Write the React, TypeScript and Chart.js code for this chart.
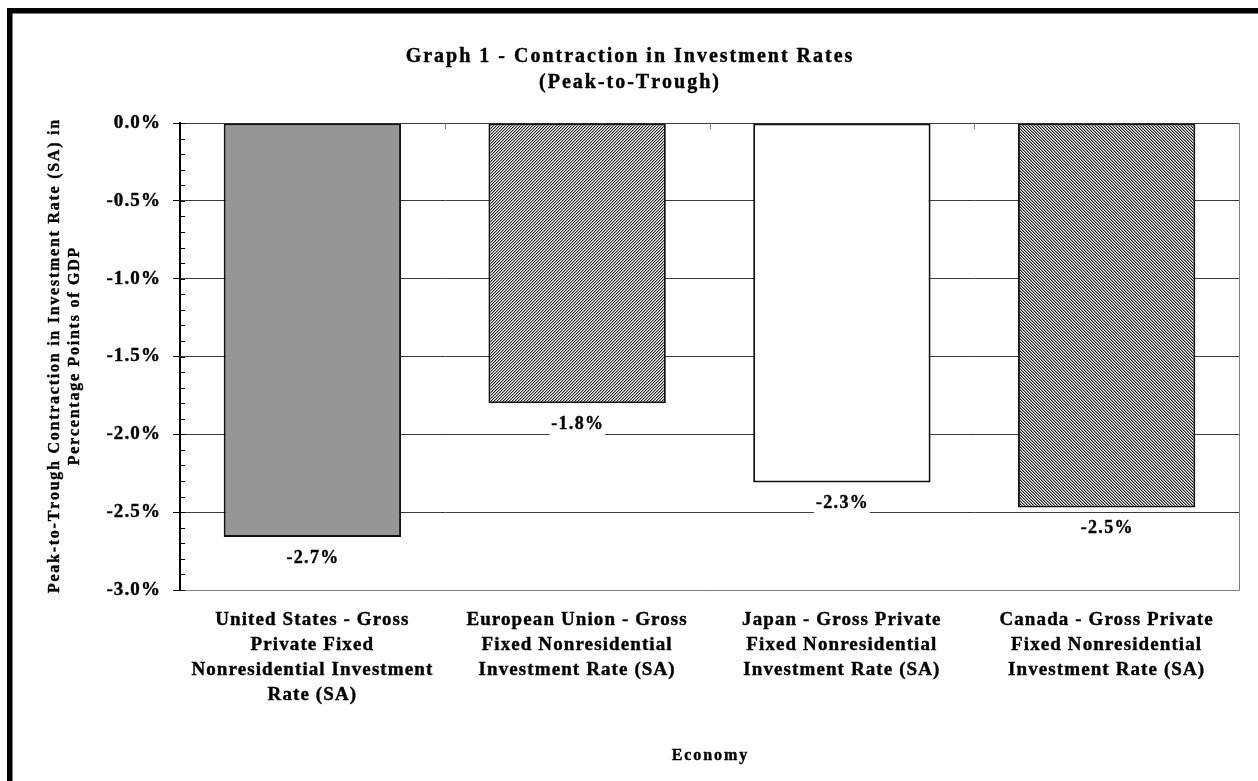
import React, { useEffect, useRef } from 'react';
import { Chart, registerables } from 'chart.js';

Chart.register(...registerables);

// ---- data ----
const categories: string[][] = [
  ['United States - Gross', 'Private Fixed', 'Nonresidential Investment', 'Rate (SA)'],
  ['European Union - Gross', 'Fixed Nonresidential', 'Investment Rate (SA)'],
  ['Japan - Gross Private', 'Fixed Nonresidential', 'Investment Rate (SA)'],
  ['Canada - Gross Private', 'Fixed Nonresidential', 'Investment Rate (SA)'],
];
const contraction: number[] = [-2.66, -1.8, -2.31, -2.47];
const yMin = -3.0;
const yMax = 0.0;
const yStep = 0.5;
const yMinorStep = 0.1;
const titleLines: string[] = ['Graph 1 - Contraction in Investment Rates', '(Peak-to-Trough)'];
const yTitleLines: string[] = [
  'Peak-to-Trough Contraction in Investment Rate (SA) in',
  'Percentage Points of GDP',
];
const xTitle = 'Economy';

const FONT = '"Liberation Serif", "Times New Roman", serif';
const STROKE = 0.4;

function makePattern(
  ctx: CanvasRenderingContext2D,
  size: number,
  fn: (x: number, y: number) => number
): CanvasPattern | string {
  const c = document.createElement('canvas');
  c.width = size;
  c.height = size;
  const g = c.getContext('2d');
  if (!g) return '#a0a0a0';
  const img = g.createImageData(size, size);
  for (let y = 0; y < size; y++) {
    for (let x = 0; x < size; x++) {
      const v = fn(x, y);
      const i = (y * size + x) * 4;
      img.data[i] = v;
      img.data[i + 1] = v;
      img.data[i + 2] = v;
      img.data[i + 3] = 255;
    }
  }
  g.putImageData(img, 0, 0);
  return ctx.createPattern(c, 'repeat') || '#a0a0a0';
}

function spacedWidth(ctx: CanvasRenderingContext2D, text: string, spacing: number) {
  let w = 0;
  for (const ch of text) w += ctx.measureText(ch).width;
  return w + spacing * Math.max(0, text.length - 1);
}
function drawSpaced(
  ctx: CanvasRenderingContext2D,
  text: string,
  cx: number,
  cy: number,
  spacing: number
) {
  ctx.save();
  (ctx as any).letterSpacing = '0px';
  ctx.textAlign = 'left';
  ctx.textBaseline = 'middle';
  ctx.strokeStyle = ctx.fillStyle as string;
  ctx.lineWidth = STROKE;
  ctx.lineJoin = 'round';
  const total = spacedWidth(ctx, text, spacing);
  let x = cx - total / 2;
  for (const ch of text) {
    ctx.strokeText(ch, x, cy);
    ctx.fillText(ch, x, cy);
    x += ctx.measureText(ch).width + spacing;
  }
  ctx.restore();
}

const decor = {
  id: 'decor',
  beforeDraw(chart: any) {
    const ctx: CanvasRenderingContext2D = chart.ctx;
    ctx.save();
    ctx.fillStyle = '#ffffff';
    ctx.fillRect(0, 0, chart.width, chart.height);
    ctx.restore();
    (ctx as any).letterSpacing = '1.1px';
  },
  beforeDatasetsDraw(chart: any) {
    const ctx: CanvasRenderingContext2D = chart.ctx;
    const { left, right, top, bottom } = chart.chartArea;
    const xs = chart.scales.x;
    const ys = chart.scales.y;
    ctx.save();
    ctx.strokeStyle = '#808080';
    ctx.lineWidth = 1;
    ctx.beginPath();
    ctx.moveTo(left, Math.round(bottom) + 0.5);
    ctx.lineTo(Math.round(right) + 0.5, Math.round(bottom) + 0.5);
    ctx.lineTo(Math.round(right) + 0.5, top);
    ctx.stroke();
    ctx.beginPath();
    for (let i = 0; i < categories.length - 1; i++) {
      const bx = Math.round((xs.getPixelForValue(i) + xs.getPixelForValue(i + 1)) / 2) + 0.5;
      ctx.moveTo(bx, top);
      ctx.lineTo(bx, top + 6);
    }
    ctx.stroke();
    ctx.strokeStyle = '#000000';
    ctx.beginPath();
    const n = Math.round((yMax - yMin) / yMinorStep);
    for (let k = 0; k <= n; k++) {
      const v = yMax - k * yMinorStep;
      const py = Math.round(ys.getPixelForValue(v)) + 0.5;
      ctx.moveTo(left, py);
      ctx.lineTo(left + 5, py);
    }
    ctx.stroke();
    ctx.restore();
  },
  afterDatasetsDraw(chart: any) {
    const ctx: CanvasRenderingContext2D = chart.ctx;
    const meta = chart.getDatasetMeta(0);
    ctx.save();
    (ctx as any).letterSpacing = '0px';
    ctx.font = `bold 18px ${FONT}`;
    meta.data.forEach((el: any, i: number) => {
      const v = contraction[i];
      const label = `${v.toFixed(1)}%`;
      const cx = el.x;
      const cy = el.y + 21;
      const w = spacedWidth(ctx, label, 1.3) + 4;
      ctx.fillStyle = '#ffffff';
      ctx.fillRect(cx - w / 2, cy - 11, w, 22);
      ctx.fillStyle = '#000000';
      drawSpaced(ctx, label, cx, cy, 1.3);
    });
    ctx.restore();
  },
  afterDraw(chart: any) {
    const ctx: CanvasRenderingContext2D = chart.ctx;
    const { left, right, top, bottom } = chart.chartArea;
    ctx.save();
    (ctx as any).letterSpacing = '0px';
    ctx.fillStyle = '#000000';
    ctx.font = `bold 20px ${FONT}`;
    drawSpaced(ctx, titleLines[0], chart.width / 2, 57, 2.0);
    drawSpaced(ctx, titleLines[1], chart.width / 2, 82.5, 2.0);
    ctx.font = `bold 16px ${FONT}`;
    const cyMid = (top + bottom) / 2;
    ctx.save();
    ctx.translate(55, cyMid);
    ctx.rotate(-Math.PI / 2);
    drawSpaced(ctx, yTitleLines[0], 0, 0, 1.75);
    ctx.restore();
    ctx.save();
    ctx.translate(75, cyMid);
    ctx.rotate(-Math.PI / 2);
    drawSpaced(ctx, yTitleLines[1], 0, 0, 1.75);
    ctx.restore();
    ctx.font = `bold 16px ${FONT}`;
    drawSpaced(ctx, xTitle, (left + right) / 2, 756, 1.9);
    ctx.fillStyle = '#000000';
    ctx.fillRect(7, 8, chart.width - 7, 5.5);
    ctx.fillRect(7, 8, 5.5, chart.height - 8);
    ctx.restore();
  },
};

export default function App() {
  const canvasRef = useRef<HTMLCanvasElement | null>(null);

  useEffect(() => {
    const canvas = canvasRef.current;
    if (!canvas) return;
    const ctx = canvas.getContext('2d');
    if (!ctx) return;

    const euPattern = makePattern(ctx, 6, (x, y) => {
      const k = (x + y) % 3;
      return k === 0 ? 35 : k === 1 ? 165 : 255;
    });
    const caPattern = makePattern(ctx, 6, (x, y) => {
      const k = (x - y + 60) % 3;
      return k === 0 ? 30 : k === 1 ? 150 : 255;
    });

    const chart = new Chart(ctx, {
      type: 'bar',
      data: {
        labels: categories,
        datasets: [
          {
            data: contraction,
            backgroundColor: ['#969696', euPattern, '#ffffff', caPattern] as any,
            borderColor: '#111111',
            borderWidth: 2,
            borderSkipped: false,
            categoryPercentage: 1.0,
            barPercentage: 0.67,
          },
        ],
      },
      plugins: [decor],
      options: {
        responsive: false,
        maintainAspectRatio: false,
        animation: false,
        devicePixelRatio: 1,
        layout: { padding: { left: 0, right: 19, top: 123, bottom: 41 } },
        plugins: {
          legend: { display: false },
          title: { display: false },
          tooltip: { enabled: false },
        },
        scales: {
          x: {
            type: 'category',
            position: 'bottom',
            grid: { display: false, drawTicks: false },
            border: { display: false },
            ticks: {
              autoSkip: false,
              maxRotation: 0,
              minRotation: 0,
              padding: 17.5,
              color: '#000000',
              textStrokeColor: '#000000',
              textStrokeWidth: STROKE,
              font: { family: FONT, size: 19, weight: 'bold', lineHeight: '25px' } as any,
            } as any,
            afterFit: (scale: any) => {
              scale.height = 150;
            },
          },
          y: {
            type: 'linear',
            min: yMin,
            max: yMax,
            grid: {
              color: '#3a3a3a',
              lineWidth: 1,
              drawTicks: true,
              tickLength: 7,
              tickColor: '#000000',
              tickWidth: 1,
            },
            border: { display: true, color: '#000000', width: 2 },
            ticks: {
              stepSize: yStep,
              padding: 12,
              color: '#000000',
              textStrokeColor: '#000000',
              textStrokeWidth: STROKE,
              font: { family: FONT, size: 19, weight: 'bold' },
              callback: (v: any) => {
                const n = Math.abs(Number(v)) < 1e-9 ? 0 : Number(v);
                return `${n.toFixed(1)}%`;
              },
            } as any,
            afterFit: (scale: any) => {
              scale.width = 180;
            },
          },
        },
      },
    });

    return () => {
      chart.destroy();
    };
  }, []);

  return (
    <div style={{ position: 'fixed', left: 0, top: 0, width: 1258, height: 781, background: '#ffffff' }}>
      <canvas ref={canvasRef} width={1258} height={781} style={{ display: 'block' }} />
    </div>
  );
}
